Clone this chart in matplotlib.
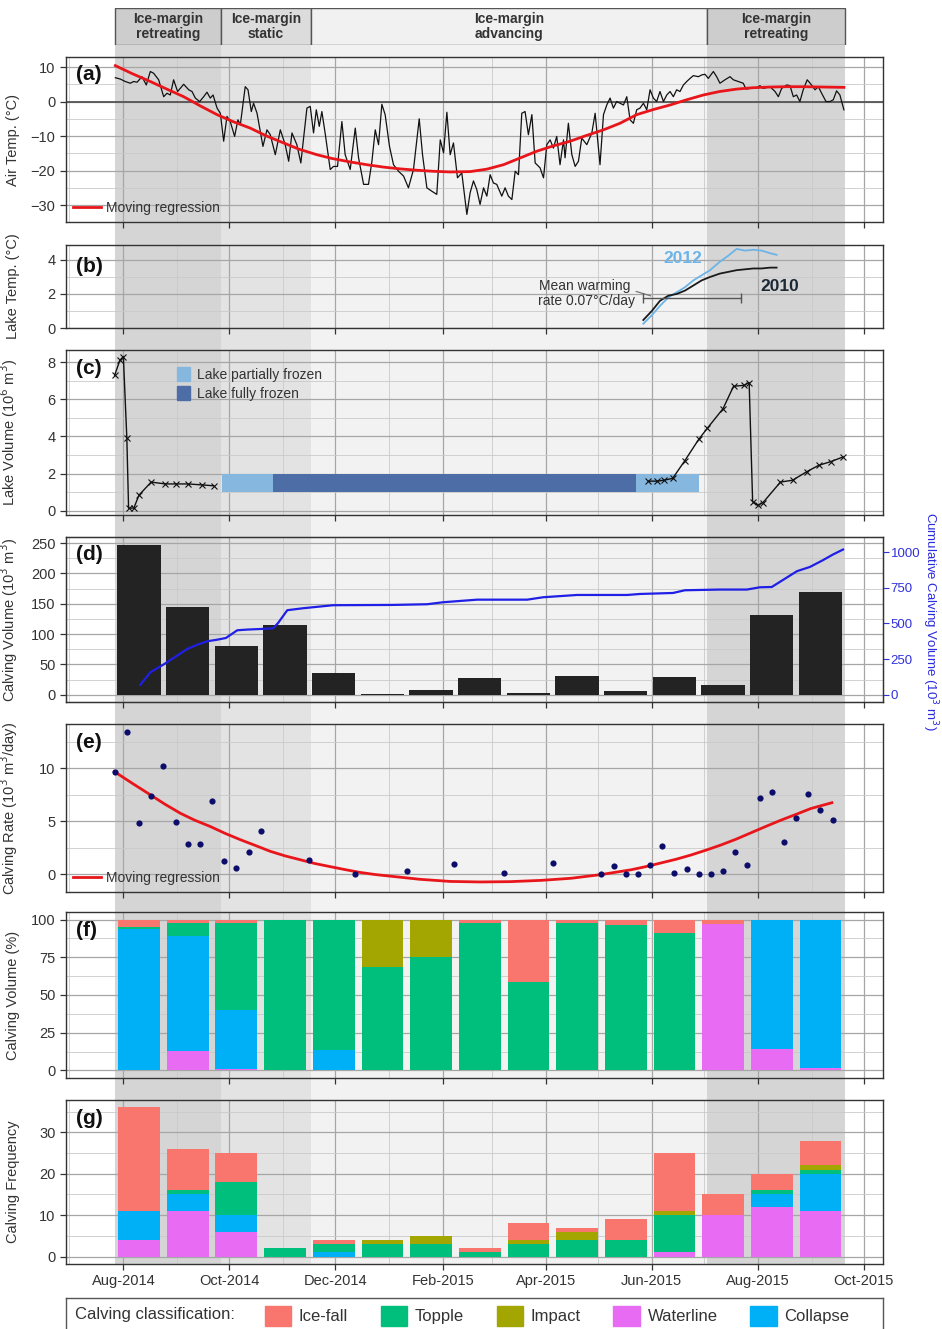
import numpy as np
import pandas as pd
import matplotlib
matplotlib.use('Agg')
import matplotlib.pyplot as plt
import matplotlib.dates as mdates
from matplotlib.patches import Patch
from matplotlib.ticker import AutoMinorLocator, FixedLocator

plt.rcParams['font.family'] = ['Liberation Sans', 'DejaVu Sans']

# ---------------- data ----------------
BASE = '2014-08-01'   # day offsets below are days after this date

phase_start = ['2014-07-27', '2014-09-26', '2014-11-17', '2015-07-03']
phase_end = ['2014-09-26', '2014-11-17', '2015-07-03', '2015-09-20']
phase_label = ['Ice-margin\nretreating', 'Ice-margin\nstatic', 'Ice-margin\nadvancing', 'Ice-margin\nretreating']
phase_kind = ['retreat', 'static', 'advance', 'retreat']

air_day = [-4.6, -1.7, 1.1, 4.0, 5.9, 7.9, 10.7, 13.2, 15.5, 17.4, 20.3, 23.2, 25.1, 27.0, 28.9, 31.2,
           34.7, 37.6, 39.5, 41.4, 43.9, 46.2, 48.1, 50.0, 51.6, 53.9, 55.8, 57.7, 59.6, 61.5, 64.0,
           65.9, 67.3, 70.1, 71.7, 73.6, 74.9, 76.9, 80.3, 82.6, 84.5, 87.4, 90.3, 93.1, 95.1, 97.0,
           99.8, 102.1, 104.1, 105.6, 107.5, 109.4, 111.0, 112.7, 114.2, 116.2, 119.0, 120.9, 123.2,
           125.7, 127.6, 130.5, 133.4, 135.3, 138.2, 141.0, 143.0, 144.9, 146.8, 148.7, 150.6, 153.1,
           155.4, 158.3, 161.2, 164.0, 166.9, 170.2, 172.1, 174.6, 177.5, 180.3, 182.3, 184.2, 186.1,
           188.0, 189.9, 192.2, 194.7, 197.6, 199.5,
           201.4, 203.3, 205.2, 207.2, 209.1, 211.0, 212.9, 214.8, 217.7, 219.6, 221.5, 223.5, 225.4,
           227.3, 229.2, 231.1, 233.0, 235.0, 236.9, 239.7, 241.7, 243.6, 245.5, 247.4, 249.3, 251.2,
           253.2, 254.1, 256.0, 258.0, 259.9, 261.8, 263.7, 266.6, 269.5, 271.4, 274.2, 276.2, 278.1,
           280.0, 281.9, 283.8, 285.7, 287.7, 289.6, 291.5, 293.4, 295.3, 297.2, 299.2, 301.1, 303.0,
           304.9, 306.8, 308.7, 310.7, 312.6, 314.5, 316.4, 318.3, 320.2, 322.2, 324.1, 326.0, 327.9,
           330.8, 332.7, 334.6, 336.5, 339.4, 341.3, 343.2, 346.1, 349.0, 350.9, 353.8, 356.6, 358.2,
           360.5, 364.3, 366.2, 368.1, 372.0, 374.9, 376.8, 378.7, 381.6, 383.5, 385.4, 387.3, 389.2,
           391.1, 393.4, 395.9, 397.9, 399.8, 401.7, 404.2, 406.5, 408.4, 410.3, 412.2, 414.5]
air_temp = [6.9, 6.5, 5.8, 5.3, 5.8, 5.6, 7.2, 4.8, 8.7, 8.2, 6.3, 1.4, 2.4, 1.9, 6.3, 2.9,
            5.0, 3.4, 2.9, 1.0, 0.0, 1.4, 2.7, 1.0, 1.9, -1.9, -3.4, -11.5, -4.3, -5.8, -10.1,
            -5.3, -6.7, 4.3, 3.4, -2.9, -0.5, -3.4, -13.0, -8.2, -9.6, -15.4, -8.2, -12.5, -17.3, -9.1,
            -12.5, -17.8, -8.7, -1.9, -1.4, -9.1, -2.4, -7.2, -2.9, -9.6, -19.7, -18.8, -18.8,
            -5.8, -15.4, -19.7, -7.7, -16.3, -24.0, -24.0, -17.3, -8.2, -12.5, -0.8, -3.8, -13.0,
            -18.3, -20.2, -21.6, -25.0, -19.7, -5.0, -15.4, -25.0, -26.0, -26.9, -11.1, -14.9, -3.1,
            -15.4, -12.0, -22.1, -20.7, -32.7, -26.4,
            -23.0, -25.5, -29.8, -25.0, -27.4, -21.2, -23.6, -24.0, -27.4, -25.0, -27.4, -28.4, -20.2,
            -21.2, -3.4, -2.9, -9.6, -3.8, -17.8, -19.2, -22.1, -12.5, -11.1, -13.5, -10.1, -18.3,
            -11.1, -16.3, -6.3, -15.4, -18.8, -17.3, -10.6, -12.5, -9.1, -3.4, -18.3, -3.8, -1.0,
            1.0, -1.9, 0.0, -0.5, -1.0, 1.4, -5.3, -6.3, -2.4, -1.9, -0.5, -2.4, 3.4,
            1.0, 0.0, 2.9, 0.0, 1.9, 2.9, 1.4, 3.4, 2.9, 4.8, 5.8, 6.7, 7.5,
            7.2, 7.7, 7.9, 6.7, 8.7, 7.2, 5.3, 6.3, 7.2, 6.3, 5.8, 5.3, 3.6,
            3.8, 4.0, 4.6, 3.8, 4.3, 2.9, 1.4, 3.8, 4.8, 4.6, 1.4, 1.9, 0.0,
            3.4, 6.3, 4.8, 3.4, 4.3, 2.4, 0.0, 0.0, 0.5, 3.1, 1.9, -2.4]

air_fit_day = [-4.6, 5.0, 15.5, 25.0, 34.7, 44.0, 53.9, 63.0, 73.0, 82.0, 92.2, 101.0, 111.3,
               120.0, 130.5, 140.0, 149.7, 159.0, 168.8, 178.0, 188.0, 199.5, 209.0,
               218.7, 228.0, 237.8, 247.0, 257.0, 266.0, 276.2, 285.7, 295.3, 305.0, 314.5, 324.0,
               333.7, 343.0, 352.8, 362.0, 372.0, 381.0, 391.1, 403.0, 414.5]
air_fit = [10.4, 8.1, 5.8, 3.6, 1.4, -1.2, -3.8, -5.8, -7.7, -9.9, -12.0, -13.8, -15.4,
           -16.5, -17.5, -18.3, -19.0, -19.5, -19.9, -20.2, -20.4, -20.3, -19.6,
           -18.3, -16.4, -14.4, -12.9, -11.5, -9.9, -8.2, -6.3, -3.8, -2.3, -1.0, 0.5,
           1.9, 2.9, 3.6, 4.0, 4.2, 4.3, 4.3, 4.2, 4.1]

lake10_day = [299.1, 304.0, 308.7, 313.5, 318.3, 323.1, 327.9, 332.7, 337.5, 343.2, 348.0, 352.8,
              357.6, 362.4, 367.2, 372.0, 375.8]
lake10_temp = [0.47, 1.0, 1.6, 1.9, 2.0, 2.2, 2.5, 2.8, 3.0, 3.2, 3.3, 3.4, 3.45, 3.5, 3.5, 3.55, 3.55]
lake12_day = lake10_day
lake12_temp = [0.25, 0.75, 1.3, 1.8, 2.1, 2.4, 2.8, 3.1, 3.4, 3.9, 4.25, 4.65, 4.55, 4.6, 4.55, 4.4, 4.3]
warming_day = [299.1, 355.1]
warming_level = 1.76

vol_date = ['2014-07-27', '2014-07-30', '2014-08-01', '2014-08-03', '2014-08-04', '2014-08-07',
            '2014-08-10', '2014-08-17', '2014-08-25', '2014-08-31', '2014-09-07', '2014-09-15',
            '2014-09-22', '2015-01-01',
            '2015-05-30', '2015-06-04', '2015-06-08', '2015-06-13', '2015-06-20', '2015-06-28',
            '2015-07-03', '2015-07-12', '2015-07-18', '2015-07-24', '2015-07-27', '2015-07-29',
            '2015-08-01', '2015-08-04', '2015-08-14', '2015-08-21', '2015-08-29', '2015-09-05',
            '2015-09-12', '2015-09-19']
vol = [7.3, 8.1, 8.3, 3.9, 0.15, 0.15, 0.85, 1.55, 1.45, 1.45, 1.45, 1.4, 1.35, np.nan,
       1.6, 1.6, 1.65, 1.75, 2.7, 3.85, 4.45, 5.5, 6.7, 6.75, 6.9, 0.5, 0.3, 0.45, 1.55, 1.65,
       2.1, 2.45, 2.65, 2.9]
frozen_start = ['2014-09-27', '2014-10-26', '2015-05-23']
frozen_end = ['2014-10-26', '2015-05-23', '2015-06-28']
frozen_kind = ['Lake partially frozen', 'Lake fully frozen', 'Lake partially frozen']
frozen_band = (1.0, 2.0)

bin_center = ['2014-08-10', '2014-09-07', '2014-10-05', '2014-11-02', '2014-11-30', '2014-12-28',
              '2015-01-25', '2015-02-22', '2015-03-22', '2015-04-19', '2015-05-17', '2015-06-14',
              '2015-07-12', '2015-08-09', '2015-09-06']
calv_vol = [247, 144.5, 81, 115, 35, 0.5, 7, 28, 2, 31, 5.5, 29, 16.5, 131, 169]

cum_day = [9.8, 15.5, 23.0, 36.8, 42.5, 48.3, 54.0, 59.0, 65.5, 71.3, 78.8, 86.2, 89.0, 94.3,
           103.5, 120.7, 155.0, 174.8, 184.0, 203.5, 232.3, 241.5, 261.0, 289.8, 297.2, 316.2,
           323.0, 343.0, 358.7, 366.2, 373.0, 387.5, 395.0, 402.4, 408.2, 414.0]
cum_vol = [70, 157, 211, 321, 351, 375, 386, 398, 452, 457, 461, 466, 503, 593, 607, 628, 630,
           635, 649, 667, 667, 684, 700, 700, 707, 714, 733, 738, 738, 754, 756, 867, 897, 944,
           984, 1019]

rate_date = ['2014-07-27', '2014-08-03', '2014-08-10', '2014-08-17', '2014-08-24', '2014-08-31',
             '2014-09-07', '2014-09-14', '2014-09-21', '2014-09-28', '2014-10-05', '2014-10-12',
             '2014-10-19', '2014-11-16', '2014-12-12', '2015-01-11', '2015-02-07', '2015-03-08',
             '2015-04-05', '2015-05-03', '2015-05-10', '2015-05-17', '2015-05-24', '2015-05-31',
             '2015-06-07', '2015-06-14', '2015-06-21', '2015-06-28', '2015-07-05', '2015-07-12',
             '2015-07-19', '2015-07-26', '2015-08-02', '2015-08-09', '2015-08-16', '2015-08-23',
             '2015-08-30', '2015-09-06', '2015-09-13']
rate = [9.7, 13.4, 4.8, 7.4, 10.2, 4.9, 2.8, 2.8, 6.9, 1.2, 0.6, 2.1, 4.1, 1.35, 0.0, 0.25,
        0.95, 0.1, 1.05, 0.0, 0.8, 0.0, 0.05, 0.9, 2.7, 0.1, 0.45, 0.0, 0.0, 0.25, 2.1, 0.85,
        7.2, 7.8, 3.0, 5.35, 7.6, 6.1, 5.1]
rate_fit_day = [-5.2, 5.0, 15.5, 24.0, 32.8, 41.0, 50.0, 58.5, 67.3, 76.0, 84.5, 93.0, 101.8,
                110.0, 119.0, 127.5, 136.3, 145.0, 153.5, 170.7, 188.0, 205.2, 222.5, 240.3,
                257.6, 274.8, 292.0, 300.5, 309.3, 318.0, 326.5, 335.0, 343.8, 352.5, 361.0,
                369.5, 378.3, 387.0, 395.5, 407.6]
rate_fit = [9.7, 8.6, 7.5, 6.6, 5.75, 5.1, 4.5, 3.85, 3.25, 2.7, 2.15, 1.72, 1.35,
            1.0, 0.7, 0.42, 0.15, -0.05, -0.2, -0.5, -0.7, -0.75, -0.72, -0.6,
            -0.4, -0.05, 0.4, 0.7, 1.05, 1.4, 1.8, 2.25, 2.75, 3.3, 3.9,
            4.5, 5.1, 5.65, 6.2, 6.75]

classes = ['Ice-fall', 'Topple', 'Impact', 'Waterline', 'Collapse']
class_colors = ['#F8766D', '#00BF7D', '#A3A500', '#E76BF3', '#00B0F6']
stack_order = ['Waterline', 'Collapse', 'Topple', 'Impact', 'Ice-fall']

pct = {
    'Waterline': [0, 13, 1, 0, 0, 0, 0, 0, 0, 0, 0, 0, 97, 14.5, 1.5],
    'Collapse':  [94, 76, 39, 0, 13.5, 0, 0, 0, 0, 0, 0, 0, 0, 85.5, 98.5],
    'Topple':    [1, 9, 57.5, 100, 86.5, 68.5, 75.5, 97.5, 58.5, 98, 96.5, 91, 0, 0, 0],
    'Impact':    [0, 0, 0, 0, 0, 31.5, 24.5, 0, 0, 0, 0, 0, 0, 0, 0],
    'Ice-fall':  [5, 2, 2.5, 0, 0, 0, 0, 2.5, 41.5, 2, 3.5, 9, 3, 0, 0],
}
freq = {
    'Waterline': [4, 11, 6, 0, 0, 0, 0, 0, 0, 0, 0, 1, 10, 12, 11],
    'Collapse':  [7, 4, 4, 0, 1, 0, 0, 0, 0, 0, 0, 0, 0, 3, 9],
    'Topple':    [0, 1, 8, 2, 2, 3, 3, 1, 3, 4, 4, 9, 0, 1, 1],
    'Impact':    [0, 0, 0, 0, 0, 1, 2, 0, 1, 2, 0, 1, 0, 0, 1],
    'Ice-fall':  [25, 10, 7, 0, 1, 0, 0, 1, 4, 1, 5, 14, 5, 4, 6],
}

# ---------------- helpers ----------------
base_num = mdates.date2num(pd.Timestamp(BASE))


def from_days(d):
    return base_num + np.asarray(d, float)


def to_num(s):
    return mdates.date2num(pd.to_datetime(s))


W, H = 942, 1329
fig = plt.figure(figsize=(W / 100, H / 100), dpi=100)
fig.patch.set_facecolor('white')

L = 66 / W
AW = 817 / W


def rect(top, bottom):
    return [L, 1 - bottom / H, AW, (bottom - top) / H]


XLIM = to_num(['2014-06-29', '2015-10-12'])
shade = {'retreat': '#d5d5d5', 'static': '#e3e3e3', 'advance': '#f2f2f2'}
head_col = {'retreat': '#cdcdcd', 'static': '#dcdcdc', 'advance': '#f1f1f1'}
TXT = '#333333'

# background shading spanning all panels
bg = fig.add_axes(rect(45, 1264), zorder=0)
bg.set_xlim(XLIM)
bg.set_ylim(0, 1)
bg.axis('off')
for s, e, k in zip(phase_start, phase_end, phase_kind):
    bg.axvspan(to_num(s), to_num(e), color=shade[k], lw=0)

# header boxes
hd = fig.add_axes(rect(8, 45), zorder=1)
hd.set_xlim(XLIM)
hd.set_ylim(0, 1)
hd.axis('off')
for s, e, k, lab in zip(phase_start, phase_end, phase_kind, phase_label):
    a, b = to_num(s), to_num(e)
    hd.axvspan(a, b, facecolor=head_col[k], edgecolor='#555555', lw=1.0)
    hd.text((a + b) / 2, 0.5, lab, ha='center', va='center', fontsize=10,
            fontweight='bold', color='#333333', linespacing=1.15)

maj_loc = mdates.MonthLocator(bymonth=[2, 4, 6, 8, 10, 12])
min_loc = mdates.MonthLocator()


def style(ax, letter, yticks, ylim, ylabel, letter_dy=18, minor=True):
    ax.set_facecolor('none')
    ax.set_zorder(2)
    ax.set_xlim(XLIM)
    ax.set_ylim(ylim)
    ax.xaxis.set_major_locator(maj_loc)
    ax.xaxis.set_minor_locator(min_loc)
    ax.xaxis.set_major_formatter(mdates.DateFormatter('%b-%Y'))
    ax.yaxis.set_major_locator(FixedLocator(yticks))
    if minor:
        ax.yaxis.set_minor_locator(AutoMinorLocator(2))
    ax.grid(True, which='major', color='#a6a6a6', lw=0.9)
    ax.grid(True, which='minor', color='#cacaca', lw=0.6)
    ax.set_axisbelow(True)
    for sp in ax.spines.values():
        sp.set_color('#333333')
        sp.set_linewidth(1.0)
    ax.tick_params(axis='both', which='major', direction='out', length=4, color='#333333',
                   labelcolor=TXT, labelsize=10.5, width=0.9)
    ax.tick_params(axis='both', which='minor', length=0)
    ax.tick_params(axis='x', labelbottom=False)
    ax.set_ylabel(ylabel, fontsize=10.5, color=TXT)
    ax.yaxis.set_label_coords(-0.056, 0.5)
    ax.annotate(letter, xy=(0.012, 1), xycoords='axes fraction', xytext=(0, -letter_dy),
                textcoords='offset pixels', ha='left', va='center', fontsize=15,
                fontweight='bold', color='#111111')


# (a) air temperature
ax_a = fig.add_axes(rect(57, 222))
style(ax_a, '(a)', [-30, -20, -10, 0, 10], (-34.9, 12.9), 'Air Temp. (°C)', letter_dy=18)
ax_a.axhline(0, color='#555555', lw=1.3, zorder=2)
ax_a.plot(from_days(air_day), air_temp, color='#111111', lw=0.9, zorder=3)
ax_a.plot(from_days(air_fit_day), air_fit, color='#e8161b', lw=2.0, zorder=4,
          label='Moving regression')
ax_a.legend(loc='lower left', frameon=False, fontsize=10, handlelength=2.0,
            borderaxespad=0.1, handletextpad=0.4, labelcolor=TXT)

# (b) lake temperature
ax_b = fig.add_axes(rect(245, 328))
style(ax_b, '(b)', [0, 2, 4], (0, 4.88), 'Lake Temp. (°C)', letter_dy=21)
ax_b.plot(from_days(lake12_day), lake12_temp, color='#6cb4e8', lw=1.3, zorder=3)
ax_b.plot(from_days(lake10_day), lake10_temp, color='#1a1a1a', lw=1.3, zorder=4)
ax_b.plot(from_days(warming_day), [warming_level, warming_level], color='#555555', lw=1.0,
          marker='|', markersize=7, zorder=5)
ax_b.annotate('', xy=(from_days(304.9), 1.84), xytext=(from_days(293.4), 2.2),
              arrowprops=dict(arrowstyle='-', color='#777777', lw=0.9))
ax_b.text(from_days(291.5), 2.49, 'Mean warming', ha='right', va='center', fontsize=10, color=TXT)
ax_b.text(from_days(294.3), 1.6, 'rate 0.07°C/day', ha='right', va='center', fontsize=10, color=TXT)
ax_b.text(from_days(322), 4.1, '2012', ha='center', va='center', fontsize=12.5,
          fontweight='bold', color='#6cb4e8')
ax_b.text(from_days(377.7), 2.43, '2010', ha='center', va='center', fontsize=12.5,
          fontweight='bold', color='#1c2833')

# (c) lake volume
ax_c = fig.add_axes(rect(350, 515))
style(ax_c, '(c)', [0, 2, 4, 6, 8], (-0.22, 8.65), 'Lake Volume (10$^6$ m$^3$)', letter_dy=18)
fcol = {'Lake partially frozen': '#86b8df', 'Lake fully frozen': '#4c6da6'}
for s, e, k in zip(frozen_start, frozen_end, frozen_kind):
    ax_c.fill_between(to_num([s, e]), frozen_band[0], frozen_band[1], color=fcol[k], lw=0, zorder=3)
ax_c.plot(to_num(vol_date), vol, color='#111111', lw=1.0, marker='x', markersize=5,
          markeredgewidth=0.8, zorder=4)
ax_c.legend(handles=[Patch(color=fcol['Lake partially frozen']), Patch(color=fcol['Lake fully frozen'])],
            labels=['Lake partially frozen', 'Lake fully frozen'], loc='upper left',
            bbox_to_anchor=(0.12, 0.975), frameon=False, fontsize=10, handlelength=1.0,
            handleheight=1.25, handletextpad=0.5, labelspacing=0.3, labelcolor=TXT)

# (d) calving volume
ax_d = fig.add_axes(rect(537, 702))
style(ax_d, '(d)', [0, 50, 100, 150, 200, 250], (-12.1, 260), 'Calving Volume (10$^3$ m$^3$)',
      letter_dy=18)
ax_d.bar(to_num(bin_center), calv_vol, width=25, color='#232323', zorder=3)
ax_d2 = ax_d.twinx()
ax_d2.set_zorder(3)
ax_d2.set_facecolor('none')
ax_d2.set_ylim(-51.5, 1107)
ax_d2.set_yticks([0, 250, 500, 750, 1000])
ax_d2.plot(from_days(cum_day), cum_vol, color='#1f1fe6', lw=1.6)
ax_d2.tick_params(axis='y', direction='out', length=4, color='#3333cc', labelcolor='#3030dd',
                  labelsize=9.5, pad=1.5)
for sp in ax_d2.spines.values():
    sp.set_color('#333333')
ax_d2.set_ylabel('Cumulative Calving Volume (10$^3$ m$^3$)', rotation=270, color='#2a2ae0',
                 fontsize=9.5, va='center')
ax_d2.yaxis.set_label_coords(1.0575, 0.49)

# (e) calving rate
ax_e = fig.add_axes(rect(724, 892))
style(ax_e, '(e)', [0, 5, 10], (-1.7, 14.2), 'Calving Rate (10$^3$ m$^3$/day)', letter_dy=18)
ax_e.scatter(to_num(rate_date), rate, s=20, color='#0c0c6a', zorder=4, lw=0)
ax_e.plot(from_days(rate_fit_day), rate_fit, color='#e8161b', lw=2.0, zorder=3,
          label='Moving regression')
ax_e.legend(loc='lower left', frameon=False, fontsize=10, handlelength=2.0,
            borderaxespad=0.1, handletextpad=0.4, labelcolor=TXT)

# (f) calving volume %
ax_f = fig.add_axes(rect(912, 1078))
style(ax_f, '(f)', [0, 25, 50, 75, 100], (-5, 105), 'Calving Volume (%)', letter_dy=18)
col_of = dict(zip(classes, class_colors))
bottom = np.zeros(len(bin_center))
for c in stack_order:
    v = np.array(pct[c], float)
    ax_f.bar(to_num(bin_center), v, bottom=bottom, width=24, color=col_of[c], lw=0, zorder=3)
    bottom += v

# (g) calving frequency
ax_g = fig.add_axes(rect(1100, 1264))
style(ax_g, '(g)', [0, 10, 20, 30], (-1.8, 37.8), 'Calving Frequency', letter_dy=18)
bottom = np.zeros(len(bin_center))
for c in stack_order:
    v = np.array(freq[c], float)
    ax_g.bar(to_num(bin_center), v, bottom=bottom, width=24, color=col_of[c], lw=0, zorder=3)
    bottom += v
ax_g.tick_params(axis='x', labelbottom=True, labelsize=10.5)

# bottom legend box
lg = fig.add_axes([L, -0.01, AW, (1329 - 1298) / H + 0.01], zorder=5)
lg.set_xticks([])
lg.set_yticks([])
for sp in lg.spines.values():
    sp.set_color('#555555')
    sp.set_linewidth(1.0)
lg.text(0.011, 0.62, 'Calving classification:', ha='left', va='center', fontsize=12,
        color=TXT, transform=lg.transAxes)
lg.legend(handles=[Patch(color=c) for c in class_colors], labels=classes, ncol=5,
          loc='center left', bbox_to_anchor=(0.225, 0.6), frameon=False, fontsize=12,
          handlelength=1.6, handleheight=1.5, handletextpad=0.45, columnspacing=1.95,
          labelcolor=TXT)

fig.savefig('out.png', dpi=100)
